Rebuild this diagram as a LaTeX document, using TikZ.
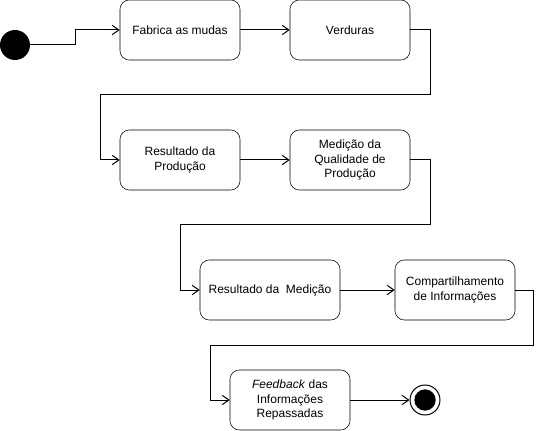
\documentclass[tikz,border=0pt]{standalone}
\usepackage{fontspec}
\setmainfont{Liberation Sans}
\usetikzlibrary{arrows.meta, positioning, calc}

\begin{document}
\begin{tikzpicture}[x=0.75pt, y=-0.75pt, >={Straight Barb[length=5pt, width=7pt]}, font=\fontsize{9pt}{11pt}\selectfont,
		act/.style={draw, rectangle, rounded corners=7pt, fill=white, minimum width=90pt, minimum height=45pt, align=center, inner sep=2pt},
		flow/.style={->, line width=0.75pt}]
				\useasboundingbox (0, 0) rectangle (543, 431);
				\node[circle, fill=black, minimum size=22.5pt, inner sep=0pt] (ini) at (15, 45) {};
				\node[act] (fab) at (180, 30) {Fabrica as mudas};
				\node[act] (verd) at (350, 30) {Verduras};
				\node[act] (resp) at (180, 160) {Resultado da\\Produção};
				\node[act] (med) at (350, 160) {Medição da\\Qualidade de\\Produção};
				\node[act, minimum width=105pt] (resm) at (270, 290) {Resultado da \ Medição};
				\node[act] (comp) at (455, 290) {Compartilhamento\\de Informações};
				\node[act] (feed) at (290, 400) {\textit{Feedback} das\\Informações\\Repassadas};
				\node[draw, circle, fill=white, line width=0.75pt, minimum size=22.5pt, inner sep=0pt] (fim) at (425, 400) {};
				\node[circle, fill=black, minimum size=16pt, inner sep=0pt] (fimin) at (fim) {};
				
				\draw[flow] (ini.east) -- ++(45, 0) |- (fab.west);
				\draw[flow] (fab) -- (verd);
				\draw[flow] (verd.east) -- ++(20, 0) -- ++(0, 65) -- ++(-330, 0) |- (resp.west);
				\draw[flow] (resp) -- (med);
				\draw[flow] (med.east) -- ++(20, 0) -- ++(0, 65) -- ++(-250, 0) |- (resm.west);
				\draw[flow] (resm) -- (comp);
				\draw[flow] (comp.east) -- ++(18, 0) -- ++(0, 55) -- ++(-323, 0) |- (feed.west);
				\draw[flow] (feed) -- (fim);
			\end{tikzpicture}
\end{document}
